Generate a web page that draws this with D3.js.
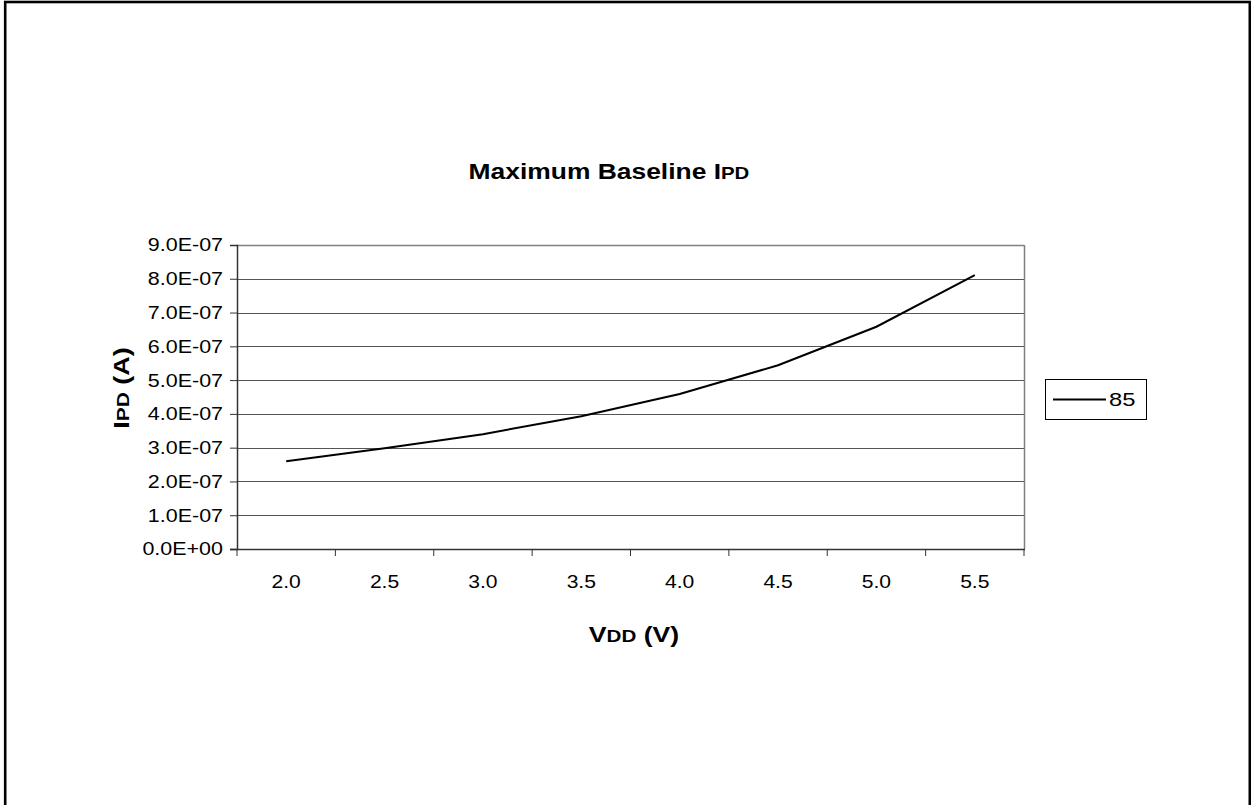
<!DOCTYPE html>
<html>
<head>
<meta charset="utf-8">
<script src="https://cdn.jsdelivr.net/npm/d3@7"></script>
<style>
  body { margin: 0; background: #fff; }
  text { font-family: "Liberation Sans", Arial, sans-serif; fill: #000; }
</style>
</head>
<body>
<div id="chart"></div>
<script>
// data
const categories = ["2.0", "2.5", "3.0", "3.5", "4.0", "4.5", "5.0", "5.5"];
const series85 = [2.6e-7, 2.98e-7, 3.4e-7, 3.93e-7, 4.59e-7, 5.44e-7, 6.58e-7, 8.11e-7];
const yTicks = [0, 1e-7, 2e-7, 3e-7, 4e-7, 5e-7, 6e-7, 7e-7, 8e-7, 9e-7];
const seriesName = "85";

const width = 1251;
const height = 805;
const plot = { left: 237, right: 1024, top: 245, bottom: 549 };
const font = '"Liberation Sans", Arial, sans-serif';

// the original text is a bit wider than Arial, so widen glyphs a little
const stretch = (sel, k) =>
  sel.each(function() {
    const w = this.getComputedTextLength();
    d3.select(this)
      .attr("textLength", w * k)
      .attr("lengthAdjust", "spacingAndGlyphs");
  });

const svg = d3
  .select("#chart")
  .append("svg")
  .attr("width", width)
  .attr("height", height);

svg
  .append("rect")
  .attr("width", width)
  .attr("height", height)
  .attr("fill", "#fff");

// outer frame, bottom edge runs off the page
svg
  .append("rect")
  .attr("x", 5.2)
  .attr("y", 2)
  .attr("width", 1244.6)
  .attr("height", 830)
  .attr("fill", "none")
  .attr("stroke", "#000")
  .attr("stroke-width", 2.6);

const x = d3
  .scaleBand()
  .domain(categories)
  .range([plot.left, plot.right]);

const y = d3
  .scaleLinear()
  .domain([0, 9e-7])
  .range([plot.bottom, plot.top]);

// 9.0E-07 style labels
const sci = v => {
  if (v === 0) return "0.0E+00";
  const e = Math.floor(Math.log10(v) + 1e-9);
  const m = v / Math.pow(10, e);
  const sign = e < 0 ? "-" : "+";
  return m.toFixed(1) + "E" + sign + String(Math.abs(e)).padStart(2, "0");
};

// gridlines
svg
  .append("g")
  .selectAll("line")
  .data(yTicks.slice(1))
  .join("line")
  .attr("x1", plot.left)
  .attr("x2", plot.right)
  .attr("y1", d => Math.round(y(d)) + 0.5)
  .attr("y2", d => Math.round(y(d)) + 0.5)
  .attr("stroke", (d, i, n) => (i === n.length - 1 ? "#808080" : "#555"))
  .attr("stroke-width", (d, i, n) => (i === n.length - 1 ? 1.5 : 1));

// right border of plot area
svg
  .append("line")
  .attr("x1", plot.right + 0.5)
  .attr("x2", plot.right + 0.5)
  .attr("y1", plot.top)
  .attr("y2", plot.bottom)
  .attr("stroke", "#808080")
  .attr("stroke-width", 1.5);

// y axis
const yAxis = d3
  .axisLeft(y)
  .tickValues(yTicks)
  .tickSize(7)
  .tickPadding(7)
  .tickFormat(sci);

const gy = svg
  .append("g")
  .attr("transform", `translate(${plot.left},0)`)
  .call(yAxis);
gy.select(".domain").attr("stroke", "#333").attr("stroke-width", 1.5);
gy.selectAll(".tick line").attr("stroke", "#333");
gy.selectAll(".tick text")
  .attr("font-size", 18.5)
  .attr("font-family", font)
  .attr("fill", "#000")
  .call(stretch, 1.16);

// x axis: ticks sit between the categories
const gx = svg
  .append("g")
  .attr("transform", `translate(0,${plot.bottom})`);
gx.append("line")
  .attr("x1", plot.left - 7)
  .attr("x2", plot.right + 1)
  .attr("y1", 0.5)
  .attr("y2", 0.5)
  .attr("stroke", "#333")
  .attr("stroke-width", 1.5);
gx.selectAll(".xt")
  .data(categories.concat([null]))
  .join("line")
  .attr("class", "xt")
  .attr("x1", (d, i) => plot.left + i * x.step())
  .attr("x2", (d, i) => plot.left + i * x.step())
  .attr("y1", 0)
  .attr("y2", 7)
  .attr("stroke", "#333");
gx.selectAll("text")
  .data(categories)
  .join("text")
  .attr("x", d => x(d) + x.bandwidth() / 2)
  .attr("y", 39)
  .attr("text-anchor", "middle")
  .attr("font-size", 18.5)
  .text(d => d)
  .call(stretch, 1.14);

// series line
const line = d3
  .line()
  .x((d, i) => x(categories[i]) + x.bandwidth() / 2)
  .y(d => y(d));

svg
  .append("path")
  .datum(series85)
  .attr("fill", "none")
  .attr("stroke", "#000")
  .attr("stroke-width", 2)
  .attr("d", line);

// title
const title = svg
  .append("text")
  .attr("x", 609)
  .attr("y", 178.5)
  .attr("text-anchor", "middle")
  .attr("font-weight", "bold")
  .attr("font-size", 22);
title.append("tspan").text("Maximum Baseline I");
title.append("tspan").attr("font-size", 17).text("PD");
title.call(stretch, 1.2);

// axis titles
const xTitle = svg
  .append("text")
  .attr("x", 634)
  .attr("y", 642)
  .attr("text-anchor", "middle")
  .attr("font-weight", "bold")
  .attr("font-size", 22);
xTitle.append("tspan").text("V");
xTitle.append("tspan").attr("font-size", 17).text("DD");
xTitle.append("tspan").text(" (V)");
xTitle.call(stretch, 1.21);

const yTitle = svg
  .append("text")
  .attr("transform", "translate(129,388) rotate(-90)")
  .attr("text-anchor", "middle")
  .attr("font-weight", "bold")
  .attr("font-size", 22);
yTitle.append("tspan").text("I");
yTitle.append("tspan").attr("font-size", 17).text("PD");
yTitle.append("tspan").text(" (A)");
yTitle.call(stretch, 1.23);

// legend
const legend = svg.append("g").attr("transform", "translate(1045,379)");
legend
  .append("rect")
  .attr("x", 0.5)
  .attr("y", 0.5)
  .attr("width", 101)
  .attr("height", 40)
  .attr("fill", "#fff")
  .attr("stroke", "#000")
  .attr("stroke-width", 1);
legend
  .append("line")
  .attr("x1", 8)
  .attr("x2", 61)
  .attr("y1", 20.5)
  .attr("y2", 20.5)
  .attr("stroke", "#000")
  .attr("stroke-width", 2);
legend
  .append("text")
  .attr("x", 64)
  .attr("y", 27)
  .attr("font-size", 19)
  .text(seriesName)
  .call(stretch, 1.25);
</script>
</body>
</html>
